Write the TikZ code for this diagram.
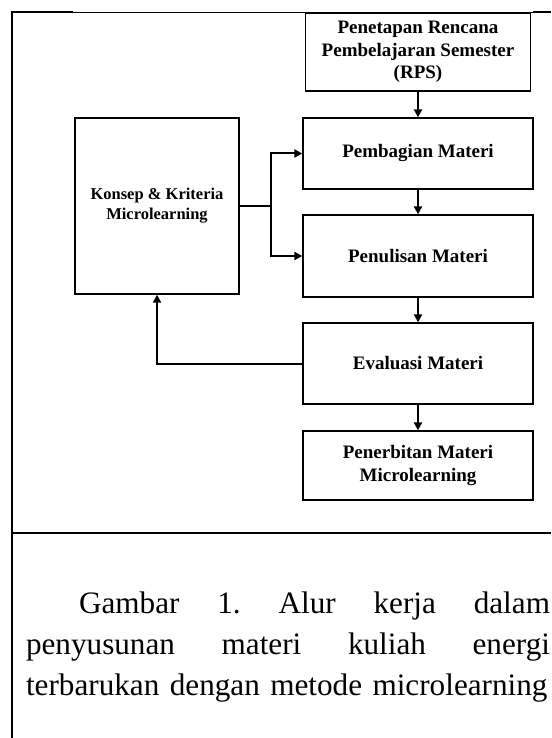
\documentclass[tikz,border=0pt]{standalone}
\usepackage{fontspec}
\setmainfont{Liberation Serif}
\usetikzlibrary{arrows.meta}

\begin{document}
\begin{tikzpicture}[
    x=1pt, y=-1pt,
    font=\fontsize{19}{22.5}\selectfont\bfseries,
    box/.style={rectangle, draw=black, fill=white, line width=1.3pt, minimum width=230pt, inner sep=0pt, align=center},
    flow/.style={line width=2pt, -{Triangle[length=8pt, width=8pt]}},
    frame/.style={line width=2pt},
    thinframe/.style={line width=0.9pt}
]
    \useasboundingbox (0,0) rectangle (551,738);

    % --- 1. Table Frame ---
    \draw[frame] (12,738) -- (12,12) -- (73,12);
    \draw[thinframe] (73,12) -- (533,12);
    \draw[frame] (533,12) -- (551,12);
    \draw[frame] (12,533) -- (551,533);

    % --- 2. Main Flow ---
    \node[box, minimum width=225pt, minimum height=78pt] (rps) at (418,52) {Penetapan Rencana\\Pembelajaran Semester\\(RPS)};
    \node[box, minimum height=71pt] (pembagian) at (418,153.5) {Pembagian Materi};
    \node[box, minimum height=82pt] (penulisan) at (418,256) {Penulisan Materi};
    \node[box, minimum height=81pt] (evaluasi) at (418,363.5) {Evaluasi Materi};
    \node[box, minimum height=69pt] (penerbitan) at (418,465.5) {Penerbitan Materi\\Microlearning};

    % --- 3. Concept Block ---
    \node[box, minimum width=164pt, minimum height=176pt, font=\fontsize{16.5}{20}\selectfont\bfseries] (konsep) at (157,206) {Konsep \& Kriteria\\Microlearning};
    \coordinate (split) at (271,206);

    % --- 4. Connections ---
    \draw[flow] (rps) -- (pembagian);
    \draw[flow] (pembagian) -- (penulisan);
    \draw[flow] (penulisan) -- (evaluasi);
    \draw[flow] (evaluasi) -- (penerbitan);
    \draw[line width=2pt] (konsep.east) -- (split);
    \draw[flow] (split) |- (pembagian.west);
    \draw[flow] (split) |- (penulisan.west);
    \draw[flow] (evaluasi.west) -| (konsep.south);

    % --- 5. Caption ---
    \node[text width=524pt, inner sep=0pt, align=left, font={\normalfont\fontsize{31.2}{41}\selectfont\hyphenpenalty=10000\relax}] (caption) at (288,647)
        {\hspace*{53pt}Gambar\hfill 1.\hfill Alur\hfill kerja\hfill dalam\\
         penyusunan\hfill materi\hfill kuliah\hfill energi\\
         terbarukan dengan metode microlearning};

\end{tikzpicture}
\end{document}
